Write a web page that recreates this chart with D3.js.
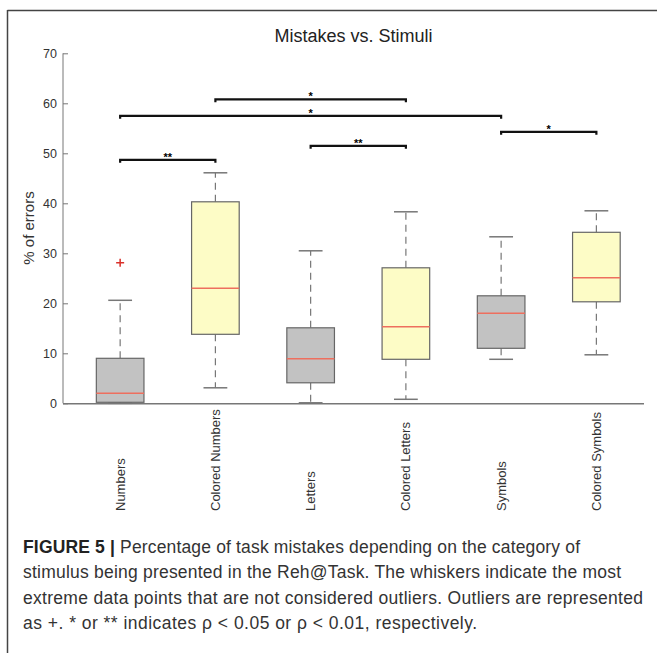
<!DOCTYPE html>
<html>
<head>
<meta charset="utf-8">
<script src="https://cdn.jsdelivr.net/npm/d3@7"></script>
<style>
  html, body { margin: 0; padding: 0; background: #fff; }
  svg { display: block; }
  text { font-family: "Liberation Sans", Arial, sans-serif; }
</style>
</head>
<body>
<svg id="chart" width="657" height="653"></svg>
<script>
// ---- data ----
const categories = ["Numbers", "Colored Numbers", "Letters", "Colored Letters", "Symbols", "Colored Symbols"];
const colored = [false, true, false, true, false, true];
const whiskerLow = [0.0, 3.1, 0.1, 0.8, 8.8, 9.7];
const q1 = [0.2, 13.8, 4.1, 8.8, 11.0, 20.3];
const medians = [2.0, 23.0, 8.9, 15.3, 18.0, 25.1];
const q3 = [9.0, 40.3, 15.1, 27.1, 21.5, 34.2];
const whiskerHigh = [20.6, 46.1, 30.5, 38.3, 33.3, 38.5];
const outliers = [[28.1], [], [], [], [], []];
const yTicks = [0, 10, 20, 30, 40, 50, 60, 70];
// significance brackets: from category index, to category index, level, label
const sigFrom = [1, 2, 1, 3, 5];
const sigTo = [2, 4, 5, 4, 6];
const sigLevel = [48.7, 60.8, 57.5, 51.5, 54.3];
const sigLabel = ["**", "*", "*", "**", "*"];
const titleText = "Mistakes vs. Stimuli";
const yLabel = "% of errors";
const captionBold = ["FIGURE 5 | ", "", "", ""];
const captionText = [
  "Percentage of task mistakes depending on the category of",
  "stimulus being presented in the Reh@Task. The whiskers indicate the most",
  "extreme data points that are not considered outliers. Outliers are represented",
  "as +. * or ** indicates \u03C1 < 0.05 or \u03C1 < 0.01, respectively."
];
const captionWidths = [557, 598, 620, 454];

// ---- drawing ----
const svg = d3.select("#chart");

// frame
svg.append("line").attr("x1", 7.5).attr("x2", 657).attr("y1", 10.5).attr("y2", 10.5)
  .attr("stroke", "#444").attr("stroke-width", 1.5);
svg.append("line").attr("x1", 7.5).attr("x2", 7.5).attr("y1", 10).attr("y2", 653)
  .attr("stroke", "#444").attr("stroke-width", 1.5);

const x = d3.scaleLinear().domain([0.4, 6.5]).range([63, 644]);
const y = d3.scaleLinear().domain([0, 70]).range([403.3, 53.3]);
const boxW = x(1.25) - x(1);   // half of box width (0.5 units total)
const capW = x(1.125) - x(1);

// y axis
const yAxis = d3.axisLeft(y).tickValues(yTicks).tickSize(-5).tickPadding(6);
const gy = svg.append("g").attr("transform", "translate(63,0)").call(yAxis);
gy.select(".domain").attr("stroke", "#777").attr("d", `M0,${y(70)}V${y(0)}`);
gy.selectAll(".tick line").attr("stroke", "#777");
gy.selectAll(".tick text").attr("fill", "#333").style("font-size", "12.5px")
  .style("font-family", "Liberation Sans, Arial, sans-serif");

// x axis
svg.append("line").attr("x1", x(0.4)).attr("x2", x(6.5)).attr("y1", y(0) + 0.5).attr("y2", y(0) + 0.5)
  .attr("stroke", "#777").attr("stroke-width", 1.5);

// title
svg.append("text").attr("x", (x(0.4) + x(6.5)) / 2).attr("y", 42)
  .attr("text-anchor", "middle").attr("fill", "#222").style("font-size", "18px").text(titleText);

// y label
svg.append("text").attr("transform", `translate(34,228) rotate(-90)`)
  .attr("text-anchor", "middle").attr("fill", "#333").style("font-size", "15px").text(yLabel);

// boxes
categories.forEach((c, i) => {
  const cx = x(i + 1);
  const g = svg.append("g");
  g.append("line").attr("x1", cx).attr("x2", cx).attr("y1", y(q3[i])).attr("y2", y(whiskerHigh[i]))
    .attr("stroke", "#777").attr("stroke-width", 1.2).attr("stroke-dasharray", "7,5");
  g.append("line").attr("x1", cx).attr("x2", cx).attr("y1", y(q1[i])).attr("y2", y(whiskerLow[i]))
    .attr("stroke", "#777").attr("stroke-width", 1.2).attr("stroke-dasharray", "7,5");
  [whiskerHigh[i], whiskerLow[i]].forEach(v => {
    g.append("line").attr("x1", cx - capW).attr("x2", cx + capW).attr("y1", y(v)).attr("y2", y(v))
      .attr("stroke", "#777").attr("stroke-width", 1.5);
  });
  g.append("rect").attr("x", cx - boxW).attr("width", 2 * boxW)
    .attr("y", y(q3[i])).attr("height", y(q1[i]) - y(q3[i]))
    .attr("fill", colored[i] ? "#fdfcc6" : "#c2c2c2")
    .attr("stroke", "#666").attr("stroke-width", 1.2);
  g.append("line").attr("x1", cx - boxW).attr("x2", cx + boxW).attr("y1", y(medians[i])).attr("y2", y(medians[i]))
    .attr("stroke", "#ee6f5e").attr("stroke-width", 1.5);
  outliers[i].forEach(v => {
    g.append("path").attr("d", `M${cx - 4},${y(v)}H${cx + 4}M${cx},${y(v) - 4}V${y(v) + 4}`)
      .attr("stroke", "#d9302a").attr("stroke-width", 1.5);
  });
  svg.append("text").attr("transform", `translate(${cx + 4.5},511) rotate(-90)`)
    .attr("text-anchor", "start").attr("fill", "#333").style("font-size", "13px").text(c);
});

// significance brackets
sigFrom.forEach((f, k) => {
  const x1 = x(f), x2 = x(sigTo[k]), yy = y(sigLevel[k]);
  svg.append("path").attr("d", `M${x1},${yy + 3}V${yy}H${x2}V${yy + 3}`)
    .attr("fill", "none").attr("stroke", "#111").attr("stroke-width", 2.2);
  svg.append("text").attr("x", (x1 + x2) / 2).attr("y", yy + 1)
    .attr("text-anchor", "middle").attr("fill", "#000").style("font-size", "11px")
    .style("font-weight", "bold").text(sigLabel[k]);
});

// caption
captionText.forEach((ln, i) => {
  const t = svg.append("text").attr("x", 23).attr("y", 553 + i * 25.3)
    .attr("fill", "#333").style("font-size", "17.5px")
    .attr("textLength", captionWidths[i]).attr("lengthAdjust", "spacing");
  if (captionBold[i]) t.append("tspan").style("font-weight", "bold").attr("fill", "#222").text(captionBold[i]);
  t.append("tspan").text(ln);
});
</script>
</body>
</html>
